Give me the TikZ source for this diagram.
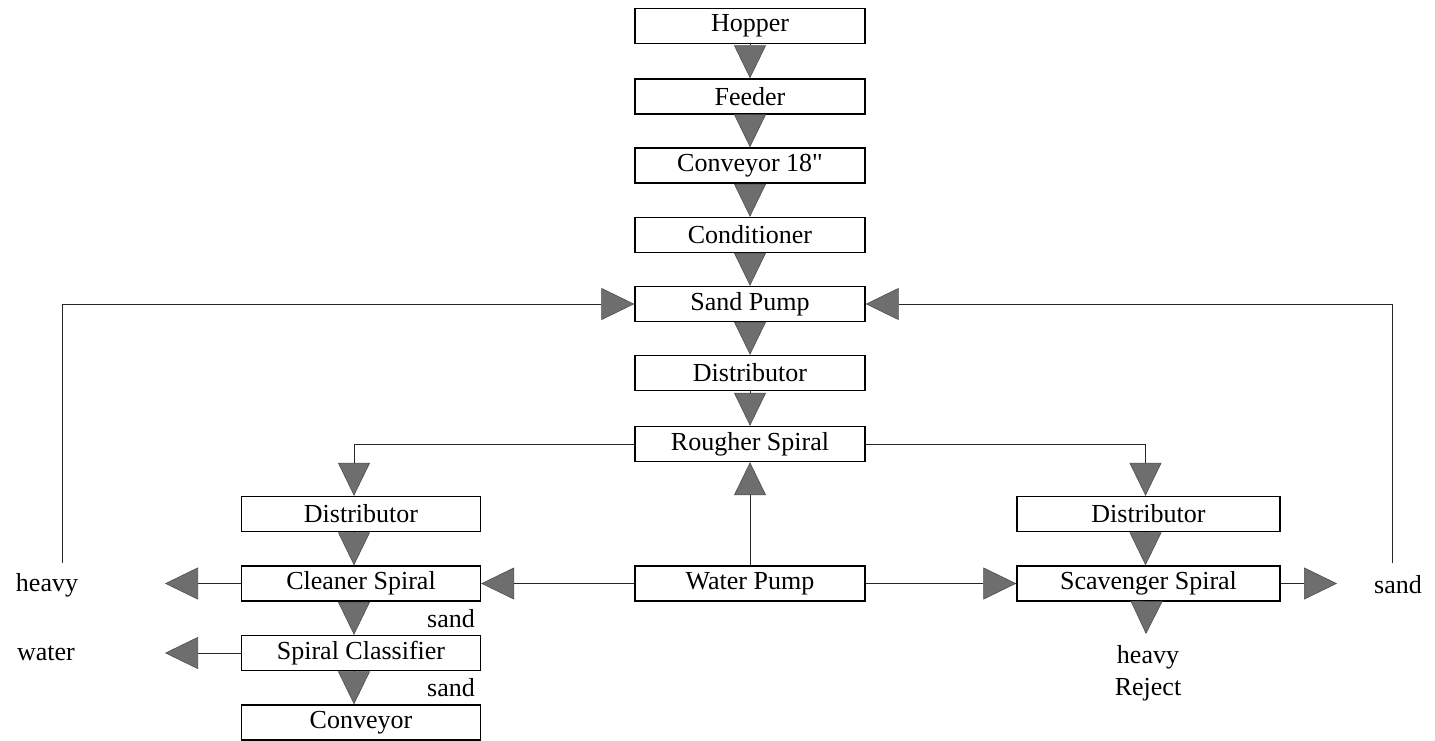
\documentclass[tikz,border=0pt]{standalone}
\usepackage{fontspec}
\newfontfamily\diagfont{Liberation Serif}
\usetikzlibrary{arrows.meta}
\definecolor{tri}{RGB}{110,110,110}
\begin{document}
\begin{tikzpicture}[x=1pt,y=-1pt,
  box/.style={draw, line width=1.4pt, minimum height=35pt, inner sep=0pt, font=\diagfont\fontsize{26}{30}\selectfont},
  lbl/.style={inner sep=0pt, font=\diagfont\fontsize{26}{30}\selectfont},
  flow/.style={line width=0.9pt, draw=black!85, -{Triangle[length=33pt,width=32pt,fill=tri,color=tri!70!black,line width=0.6pt]}},
]
\useasboundingbox (0,0) rectangle (1435,741);
% central column
\node[box, minimum width=230pt] (hop) at (750,26) {Hopper};
\node[box, minimum width=230pt] (fee) at (750,96.5) {Feeder};
\node[box, minimum width=230pt] (con) at (750,165.5) {Conveyor 18"};
\node[box, minimum width=230pt] (cnd) at (750,235) {Conditioner};
\node[box, minimum width=230pt] (sp) at (750,304) {Sand Pump};
\node[box, minimum width=230pt] (dis) at (750,373) {Distributor};
\node[box, minimum width=230pt] (rou) at (750,444) {Rougher Spiral};
\node[box, minimum width=230pt] (wp) at (750,583.5) {Water Pump};
% left column
\node[box, minimum width=239pt] (ldis) at (361,514) {Distributor};
\node[box, minimum width=239pt] (clean) at (361,583.5) {Cleaner Spiral};
\node[box, minimum width=239pt] (clas) at (361,653) {Spiral Classifier};
\node[box, minimum width=239pt] (conv) at (361,722.5) {Conveyor};
% right column
\node[box, minimum width=263pt] (rdis) at (1148.5,514) {Distributor};
\node[box, minimum width=263pt] (scav) at (1148.5,583.5) {Scavenger Spiral};
% labels
\node[lbl] (heavyL) at (47,585) {heavy};
\node[lbl] (waterL) at (46,653) {water};
\node[lbl] (sandR) at (1398,585) {sand};
\node[lbl] (heavyR) at (1148,657) {heavy};
\node[lbl] (reject) at (1148,690) {Reject};
\node[lbl, anchor=east] (sand1) at (475,619) {sand};
\node[lbl, anchor=east] (sand2) at (475,688) {sand};
% coordinates
\coordinate (lb) at (62,563);
\coordinate (rb) at (1392,563);
\coordinate (hl) at (165,583.5);
\coordinate (wl) at (165,653);
\coordinate (sr) at (1337,583.5);
\coordinate (hr) at (1146,634);
% central flow
\draw[flow] (hop.south) -- (fee.north);
\draw[flow] (fee.south) -- (con.north);
\draw[flow] (con.south) -- (cnd.north);
\draw[flow] (cnd.south) -- (sp.north);
\draw[flow] (sp.south) -- (dis.north);
\draw[flow] (dis.south) -- (rou.north);
% loops
\draw[flow] (lb) |- (sp.west);
\draw[flow] (rb) |- (sp.east);
% rougher branches
\draw[flow] (rou.west) -| ([xshift=-7pt]ldis.north);
\draw[flow] (rou.east) -| ([xshift=-3pt]rdis.north);
% left column
\draw[flow] ([xshift=-7pt]ldis.south) -- ([xshift=-7pt]clean.north);
\draw[flow] ([xshift=-7pt]clean.south) -- ([xshift=-7pt]clas.north);
\draw[flow] ([xshift=-7pt]clas.south) -- ([xshift=-7pt]conv.north);
% right column
\draw[flow] ([xshift=-3pt]rdis.south) -- ([xshift=-3pt]scav.north);
% water pump
\draw[flow] (wp.north) -- (rou.south);
\draw[flow] (wp.west) -- (clean.east);
\draw[flow] (wp.east) -- (scav.west);
% outputs
\draw[flow] (clean.west) -- (hl);
\draw[flow] (clas.west) -- (wl);
\draw[flow] (scav.east) -- (sr);
\draw[flow] ([xshift=-2pt]scav.south) -- (hr);
\end{tikzpicture}
\end{document}
